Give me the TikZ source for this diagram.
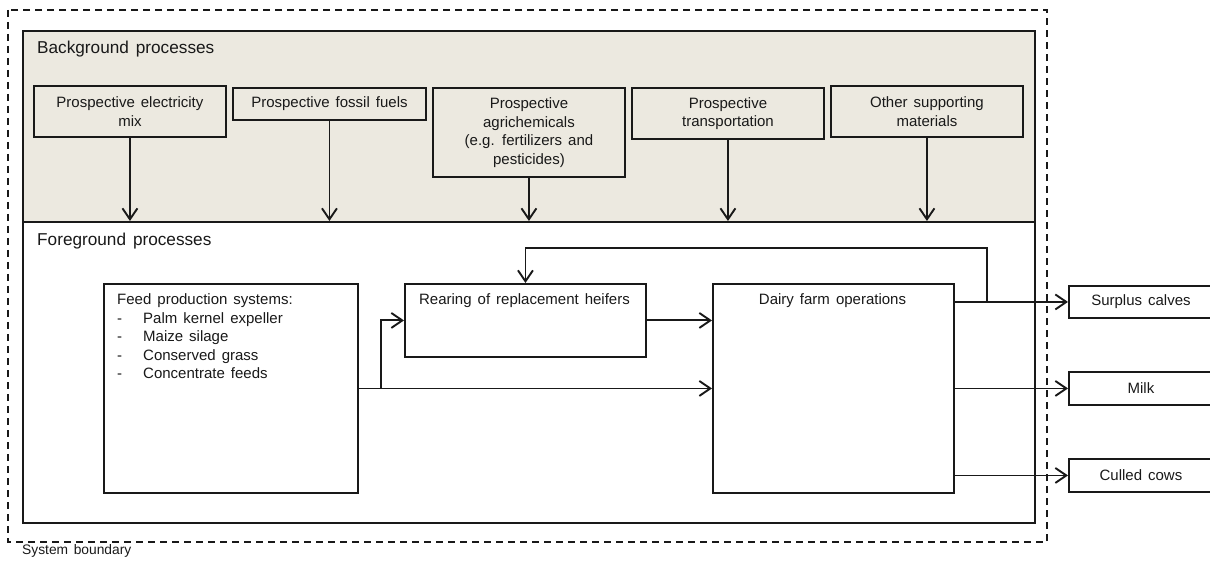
\documentclass[tikz,border=0pt]{standalone}
\usepackage{fontspec}
\setmainfont{Liberation Sans}[WordSpace=1.45]
\usetikzlibrary{arrows.meta}
\definecolor{bgfill}{RGB}{236,233,224}
\definecolor{ink}{RGB}{25,25,25}
\newcommand\boxfont{\fontsize{15}{18.6}\selectfont}
\newcommand\headfont{\fontsize{17.2}{20}\selectfont}
\newcommand\notefont{\fontsize{13.8}{16}\selectfont}
\tikzset{
  panel/.style={draw=ink, line width=1.9pt, inner sep=0pt, anchor=north west},
  procbox/.style={draw=ink, line width=1.9pt, inner sep=0pt, anchor=north west,
    align=center, font=\boxfont, text=ink},
  txt/.style={inner sep=0pt, font=\boxfont, text=ink},
  flow/.style={draw=ink, line width=1.9pt, -{Straight Barb[length=11pt,width=15pt,line width=1.9pt]}},
  boundary/.style={draw=ink, line width=1.8pt, dash pattern=on 7pt off 5pt}
}
\begin{document}
\begin{tikzpicture}[x=1pt,y=-1pt]
\useasboundingbox (0,0) rectangle (1210,569);

% system boundary
\draw[boundary] (8,10) rectangle (1047,542);
\node[anchor=base west, inner sep=0pt, font=\notefont, text=ink] (sysb) at (22,554) {System boundary};

% background and foreground panels
\node[panel, fill=bgfill, minimum width=1012, minimum height=191] (bgpanel) at (22,30) {};
\node[panel, fill=white, minimum width=1012, minimum height=301] (fgpanel) at (22,221) {};
\node[anchor=base west, inner sep=0pt, font=\headfont, text=ink] (bghead) at (37,54) {Background processes};
\node[anchor=base west, inner sep=0pt, font=\headfont, text=ink] (fghead) at (37,246) {Foreground processes};

% background process boxes
\node[procbox, minimum width=192, minimum height=51] (elec) at (33,85) {Prospective electricity\\mix};
\node[procbox, minimum width=193, minimum height=32] (fossil) at (232,87) {Prospective fossil fuels};
\node[procbox, minimum width=192, minimum height=89] (agri) at (432,87) {Prospective\\agrichemicals\\(e.g. fertilizers and\\pesticides)};
\node[procbox, minimum width=192, minimum height=51] (trans) at (631,87) {Prospective\\transportation};
\node[procbox, minimum width=192, minimum height=51] (other) at (830,85) {Other supporting\\materials};

\foreach \n in {elec,fossil,agri,trans,other}
  \draw[flow] (\n.south) -- (\n.south |- fgpanel.north);

% foreground process boxes
\node[procbox, minimum width=254, minimum height=209] (feed) at (103,283) {};
\node[txt, anchor=north west, align=left] (feedtxt) at (117,293.5)
  {Feed production systems:\\
   \makebox[26pt][l]{-}Palm kernel expeller\\
   \makebox[26pt][l]{-}Maize silage\\
   \makebox[26pt][l]{-}Conserved grass\\
   \makebox[26pt][l]{-}Concentrate feeds};

\node[procbox, minimum width=241, minimum height=73] (rear) at (404,283) {};
\node[txt, anchor=base] (reartxt) at (524.5,304.5) {Rearing of replacement heifers};

\node[procbox, minimum width=241, minimum height=209] (dairy) at (712,283) {};
\node[txt, anchor=base] (dairytxt) at (832.5,304.5) {Dairy farm operations};

% products leaving the system
\node[procbox, minimum width=144, minimum height=32] (calves) at (1068,285) {Surplus calves};
\node[procbox, minimum width=144, minimum height=33] (milk) at (1068,371) {Milk};
\node[procbox, minimum width=144, minimum height=33] (culled) at (1068,458) {Culled cows};

% feed flows
\coordinate (split) at (381,388);
\draw[flow] (feed.east) -- (dairy.west);
\draw[flow] (split) |- (rear.west);
\draw[flow] (rear.east) -- (rear.east -| dairy.west);

% outputs of the dairy farm
\draw[flow] (calves.west -| dairy.east) -- (calves.west);
\draw[flow] (milk.west -| dairy.east) -- (milk.west);
\draw[flow] (culled.west -| dairy.east) -- (culled.west);

% replacement heifers fed back
\coordinate (fbk) at (987,301);
\coordinate (fbtop) at (987,248);
\draw[flow] (fbk) -- (fbtop) -| (rear.north);
\end{tikzpicture}
\end{document}
